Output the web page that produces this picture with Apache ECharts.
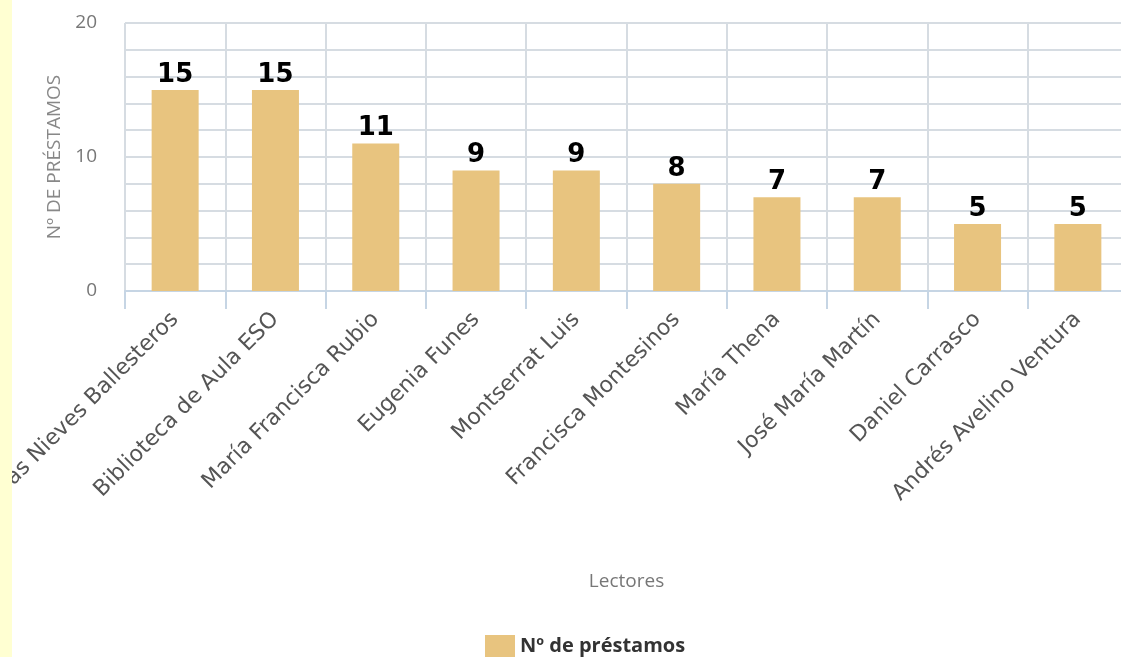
<!DOCTYPE html>
<html><head><meta charset="utf-8">
<script src="https://cdn.jsdelivr.net/npm/echarts@6/dist/echarts.min.js"></script>
<style>
html,body{margin:0;padding:0;overflow:hidden;background:#fff;width:1121px;height:657px;}
#c{position:absolute;left:0;top:0;width:1140px;height:657px;}
#strip{position:absolute;left:0;top:0;width:12px;height:657px;background:#ffffd2;z-index:10;}
</style></head>
<body>
<div id="c"></div><div id="strip"></div>
<script>
var categories = ["María de las Nieves Ballesteros","Biblioteca de Aula ESO","María Francisca Rubio","Eugenia Funes","Montserrat Luis","Francisca Montesinos","María Thena","José María Martín","Daniel Carrasco","Andrés Avelino Ventura"];
var prestamos = [15,15,11,9,9,8,7,7,5,5];
var seriesName = "Nº de préstamos";

var chart = echarts.init(document.getElementById('c'));
chart.setOption({
  animation:false,
  textStyle:{fontFamily:'DejaVu Sans'},
  grid:{left:125,right:12,top:23,bottom:366,containLabel:false,outerBoundsMode:'none'},
  legend:{show:true,left:480,top:630,itemWidth:30,itemHeight:22,itemGap:8,
    icon:'rect',
    textStyle:{fontFamily:'Open Sans',fontWeight:'bold',fontSize:20,color:'#333'},
    data:[seriesName]},
  xAxis:{type:'category',data:categories,
    name:'Lectores',nameLocation:'middle',nameGap:281,
    nameTextStyle:{fontFamily:'Open Sans',fontSize:19,color:'#777'},
    axisLine:{lineStyle:{color:'#c6d5e4',width:2}},
    axisTick:{show:true,length:18,lineStyle:{color:'#c6d5e4',width:2}},
    splitLine:{show:true,lineStyle:{color:'#d6dce2',width:2}},
    axisLabel:{rotate:45,margin:25,fontFamily:'DejaVu Sans',fontSize:22,color:'#555',interval:0}
  },
  yAxis:{type:'value',min:0,max:20,interval:10,
    name:'Nº DE PRÉSTAMOS',nameLocation:'middle',nameGap:61,nameRotate:90,
    nameTextStyle:{fontFamily:'Open Sans',fontSize:19,color:'#888'},
    axisLine:{show:false},axisTick:{show:false},
    axisLabel:{margin:28,fontFamily:'Open Sans',fontSize:19,color:'#777'},
    splitLine:{show:true,lineStyle:{color:'#d6dce2',width:2}},
    minorTick:{show:false,splitNumber:5},
    minorSplitLine:{show:true,lineStyle:{color:'#d6dce2',width:2}}
  },
  series:[{name:seriesName,type:'bar',data:prestamos,barWidth:47,
    itemStyle:{color:'#e8c47f'},
    label:{show:true,position:'top',distance:2,fontFamily:'DejaVu Sans',fontWeight:'bold',fontSize:26,color:'#000'}
  }]
});
</script>
</body></html>
